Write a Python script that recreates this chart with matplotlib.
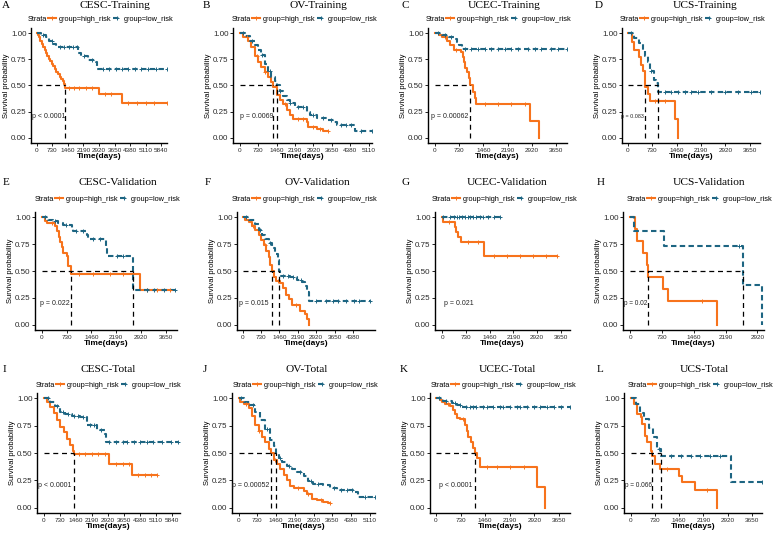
import numpy as np
import matplotlib
matplotlib.use('Agg')
import matplotlib.pyplot as plt
from matplotlib.lines import Line2D

plt.rcParams['font.family'] = ['Liberation Sans', 'DejaVu Sans']

# ---- data (times in days, survival after each event) ----
titles = ['CESC-Training', 'OV-Training', 'UCEC-Training', 'UCS-Training',
          'CESC-Validation', 'OV-Validation', 'UCEC-Validation', 'UCS-Validation',
          'CESC-Total', 'OV-Total', 'UCEC-Total', 'UCS-Total']
letters = list('ABCDEFGHIJKL')
pvals = ['p < 0.0001', 'p = 0.0069', 'p = 0.00062', 'p = 0.083',
         'p = 0.022', 'p = 0.015', 'p = 0.021', 'p = 0.02',
         'p < 0.0001', 'p = 0.00052', 'p < 0.0001', 'p = 0.066']
tick_max = [5840, 5110, 3650, 3650, 3650, 4380, 3650, 2920, 5840, 5110, 3650, 3650]

A_high_t = [60, 120, 180, 250, 310, 370, 430, 500, 560, 620, 700, 780, 850, 920, 1000, 1080, 1150, 1220, 1290, 1340, 2930, 4010]
A_high_s = [0.98, 0.96, 0.93, 0.90, 0.87, 0.84, 0.81, 0.78, 0.75, 0.73, 0.71, 0.69, 0.66, 0.63, 0.61, 0.58, 0.56, 0.54, 0.51, 0.48, 0.42, 0.33]
A_high_c = [1500, 1750, 2000, 2300, 2600, 3200, 3500, 4300, 4700, 5100, 5500, 6100]
A_low_t = [200, 420, 600, 760, 900, 1950, 2080, 2420, 2780, 2830]
A_low_s = [0.98, 0.96, 0.93, 0.90, 0.87, 0.81, 0.78, 0.74, 0.72, 0.66]
A_low_c = [300, 700, 1100, 1300, 1500, 1700, 1900, 2200, 2600, 3100, 3400, 3700, 4000, 4300, 4600, 4900, 5200, 5600, 6100]

B_high_t = [130, 330, 465, 600, 730, 860, 1000, 1130, 1260, 1330, 1460, 1590, 1730, 1860, 1990, 2120, 2650, 2720, 3050, 3320]
B_high_s = [0.96, 0.93, 0.87, 0.78, 0.72, 0.68, 0.63, 0.58, 0.53, 0.49, 0.41, 0.36, 0.32, 0.27, 0.22, 0.18, 0.15, 0.10, 0.08, 0.06]
B_high_c = [300, 700, 1000, 1800, 2300, 2500, 2900, 3200, 3516]
B_low_t = [200, 400, 600, 730, 860, 1000, 1130, 1260, 1390, 1490, 1590, 1730, 1860, 1990, 2190, 2650, 2790, 3050, 3450, 3720, 3850, 4580]
B_low_s = [0.97, 0.93, 0.89, 0.84, 0.79, 0.71, 0.64, 0.58, 0.54, 0.50, 0.45, 0.40, 0.36, 0.33, 0.29, 0.25, 0.22, 0.19, 0.17, 0.15, 0.12, 0.06]
B_low_c = [150, 500, 900, 1200, 1600, 2000, 2300, 2500, 2900, 3300, 3600, 4000, 4200, 4400, 4800, 5240]

C_high_t = [120, 220, 370, 470, 570, 800, 840, 880, 920, 970, 1020, 1070, 1140, 1200, 1240, 2870, 3120]
C_high_s = [0.98, 0.96, 0.93, 0.89, 0.84, 0.82, 0.77, 0.72, 0.67, 0.63, 0.57, 0.50, 0.44, 0.38, 0.32, 0.16, 0.0]
C_high_c = [300, 650, 1500, 1900, 2300, 2700]
C_low_t = [220, 420, 570, 670, 740, 820]
C_low_s = [0.98, 0.96, 0.94, 0.92, 0.89, 0.85]
C_low_c = [100, 300, 500, 900, 1100, 1300, 1500, 1700, 1900, 2100, 2300, 2500, 2800, 3000, 3200, 3500, 3700, 3970]

D_high_t = [120, 190, 320, 390, 450, 500, 520, 590, 650, 1424, 1505]
D_high_s = [0.92, 0.84, 0.77, 0.70, 0.64, 0.57, 0.49, 0.42, 0.35, 0.18, 0.0]
D_high_c = [800, 1100]
D_low_t = [190, 320, 450, 520, 590, 650, 770, 850, 890]
D_low_s = [0.95, 0.91, 0.84, 0.78, 0.72, 0.64, 0.55, 0.52, 0.44]
D_low_c = [100, 700, 1100, 1300, 1500, 1700, 1900, 2100, 2500, 2900, 3300, 3700, 3960]

E_high_t = [100, 165, 390, 460, 500, 540, 590, 640, 735, 785, 855, 2895]
E_high_s = [0.97, 0.95, 0.92, 0.87, 0.82, 0.77, 0.72, 0.67, 0.64, 0.55, 0.47, 0.32]
E_high_c = [300, 1100, 1500, 2000, 2400, 3100, 3400, 3776]
E_low_t = [196, 343, 490, 640, 880, 930, 1325, 1373, 1900, 1930, 2680]
E_low_s = [0.98, 0.97, 0.95, 0.93, 0.90, 0.87, 0.84, 0.80, 0.72, 0.64, 0.32]
E_low_c = [100, 400, 700, 1000, 1200, 1500, 1700, 2200, 2400, 3100, 3300, 3600, 3925]

F_high_t = [105, 237, 370, 500, 633, 725, 830, 936, 1030, 1095, 1160, 1227, 1332, 1464, 1596, 1728, 1820, 1952, 2282, 2480, 2572, 2638]
F_high_s = [0.98, 0.96, 0.92, 0.88, 0.84, 0.79, 0.74, 0.69, 0.63, 0.56, 0.50, 0.44, 0.41, 0.39, 0.34, 0.28, 0.24, 0.18, 0.13, 0.10, 0.05, 0.0]
F_high_c = [400, 900, 1400, 2100]
F_low_t = [237, 500, 633, 765, 897, 1030, 1160, 1293, 1385, 1425, 1464, 1886, 2150, 2348, 2480, 2546, 2638]
F_low_s = [0.98, 0.94, 0.88, 0.84, 0.80, 0.76, 0.71, 0.66, 0.60, 0.50, 0.45, 0.44, 0.42, 0.40, 0.36, 0.30, 0.22]
F_low_c = [150, 700, 1100, 1600, 1800, 2000, 2300, 2900, 3300, 3600, 3800, 4100, 4400, 4600, 5052]

G_high_t = [30, 390, 420, 493, 575, 1285]
G_high_s = [0.96, 0.91, 0.86, 0.82, 0.77, 0.64]
G_high_c = [200, 800, 1100, 1600, 2000, 2400, 2800, 3200, 3526]
G_low_t = []
G_low_s = []
G_low_c = [30, 250, 350, 450, 520, 600, 700, 780, 850, 950, 1050, 1150, 1250, 1400, 1600, 1778]

H_high_t = [107, 153, 283, 382, 412, 741, 871, 1986]
H_high_s = [0.89, 0.78, 0.67, 0.56, 0.44, 0.33, 0.22, 0.0]
H_high_c = [1650]
H_low_t = [92, 779, 2590, 3018]
H_low_s = [0.875, 0.73, 0.365, 0.0]
H_low_c = [2500]

I_high_t = [152, 303, 455, 607, 758, 910, 1062, 1213, 1335, 1396, 2958, 4020]
I_high_s = [0.97, 0.92, 0.87, 0.80, 0.74, 0.69, 0.63, 0.57, 0.52, 0.49, 0.40, 0.30]
I_high_c = [1600, 1900, 2200, 2500, 2800, 3300, 3600, 3900, 4300, 4600, 4900, 5158]
I_low_t = [303, 531, 758, 986, 1290, 1669, 1972, 2427, 2806, 2852]
I_low_s = [0.97, 0.93, 0.88, 0.855, 0.84, 0.83, 0.76, 0.71, 0.67, 0.60]
I_low_c = [200, 600, 900, 1100, 1400, 1550, 1800, 2100, 2300, 2600, 3000, 3300, 3600, 3800, 4100, 4400, 4700, 5000, 5400, 5800, 6144]

J_high_t = [65, 194, 388, 518, 647, 776, 906, 1035, 1165, 1255, 1359, 1488, 1618, 1747, 1876, 2006, 2135, 2523, 2653, 2847, 3041, 3300, 3494]
J_high_s = [0.97, 0.95, 0.91, 0.84, 0.76, 0.70, 0.65, 0.60, 0.54, 0.50, 0.44, 0.40, 0.35, 0.30, 0.25, 0.20, 0.18, 0.15, 0.12, 0.08, 0.07, 0.05, 0.04]
J_high_c = [300, 800, 1400, 2300, 2700, 3200, 3559]
J_low_t = [194, 453, 647, 841, 1035, 1229, 1359, 1462, 1553, 1682, 1876, 2070, 2264, 2523, 2717, 2911, 3300, 3559, 3817, 4529, 4658]
J_low_s = [0.97, 0.94, 0.88, 0.80, 0.72, 0.62, 0.56, 0.50, 0.45, 0.42, 0.38, 0.35, 0.33, 0.29, 0.24, 0.22, 0.21, 0.18, 0.16, 0.14, 0.10]
J_low_c = [100, 550, 1100, 1600, 1950, 2400, 2800, 3100, 3700, 4000, 4200, 4400, 4900, 5300]

K_high_t = [119, 168, 267, 415, 514, 564, 613, 712, 860, 910, 959, 1038, 1108, 1157, 1207, 1305, 2987, 3234]
K_high_s = [0.99, 0.97, 0.95, 0.93, 0.89, 0.86, 0.82, 0.81, 0.76, 0.70, 0.65, 0.60, 0.55, 0.50, 0.45, 0.37, 0.185, 0.0]
K_high_c = [350, 800, 1500, 1800, 2200, 2600]
K_low_t = [218, 465, 613, 781]
K_low_s = [0.98, 0.96, 0.94, 0.92]
K_low_c = [100, 300, 550, 700, 900, 1000, 1100, 1200, 1400, 1500, 1700, 1900, 2000, 2200, 2400, 2500, 2700, 2900, 3100, 3300, 3500, 3700, 3976]

L_high_t = [100, 180, 300, 350, 430, 480, 600, 650, 720, 880, 1450, 1550, 1950, 2600]
L_high_s = [0.95, 0.86, 0.83, 0.77, 0.66, 0.60, 0.52, 0.47, 0.40, 0.35, 0.29, 0.23, 0.16, 0.0]
L_high_c = [1100, 2300]
L_low_t = [150, 280, 400, 550, 680, 800, 900, 3020]
L_low_s = [0.95, 0.87, 0.81, 0.73, 0.65, 0.54, 0.47, 0.23]
L_low_c = [850, 1200, 1500, 1800, 2100, 2400, 2700, 3950]

curves = [
    ((A_high_t, A_high_s, A_high_c), (A_low_t, A_low_s, A_low_c)),
    ((B_high_t, B_high_s, B_high_c), (B_low_t, B_low_s, B_low_c)),
    ((C_high_t, C_high_s, C_high_c), (C_low_t, C_low_s, C_low_c)),
    ((D_high_t, D_high_s, D_high_c), (D_low_t, D_low_s, D_low_c)),
    ((E_high_t, E_high_s, E_high_c), (E_low_t, E_low_s, E_low_c)),
    ((F_high_t, F_high_s, F_high_c), (F_low_t, F_low_s, F_low_c)),
    ((G_high_t, G_high_s, G_high_c), (G_low_t, G_low_s, G_low_c)),
    ((H_high_t, H_high_s, H_high_c), (H_low_t, H_low_s, H_low_c)),
    ((I_high_t, I_high_s, I_high_c), (I_low_t, I_low_s, I_low_c)),
    ((J_high_t, J_high_s, J_high_c), (J_low_t, J_low_s, J_low_c)),
    ((K_high_t, K_high_s, K_high_c), (K_low_t, K_low_s, K_low_c)),
    ((L_high_t, L_high_s, L_high_c), (L_low_t, L_low_s, L_low_c)),
]

# ---- layout (pixels) ----
W, H = 777, 533
row_tb = [(28, 143), (212, 330), (393, 513)]
col_lr = [[(31, 167), (233, 372), (428, 567), (622, 760)],
          [(35, 177), (237, 375), (435, 570), (623, 764)],
          [(37, 180), (232, 375), (430, 570), (624, 762)]]
xlims = [(-264, 6104), (-265, 5243), (-200, 3970), (-180, 3961),
         (-196, 3974), (-224, 5250), (-226, 3938), (-168, 3073),
         (-303, 6219), (-259, 5304), (-178, 3976), (-200, 3950)]
letter_x = [2, 203, 402, 595, 3, 205, 402, 597, 3, 203, 400, 597]
title_x = [115, 318, 504, 705, 118, 317, 507, 709, 108, 307, 507, 704]
head_y = [6, 182, 370]
legend_x = [28, 232, 426, 620, 35, 232, 432, 627, 36, 233, 431, 628]
legend_y = [19, 199, 385]
p_x = [-217, 0, -100, -200, -49, -158, 62, -138, -273, -259, 89, -170]
p_size = [5.0, 5.0, 5.0, 3.9, 5.0, 5.0, 5.0, 4.7, 5.0, 5.0, 5.0, 4.7]

ORANGE = '#F7731C'
TEAL = '#1D6582'
DASH = (0, (2.6, 1.6))


def surv_at(t, s, x):
    idx = np.searchsorted(np.asarray(t, float), np.asarray(x, float), side='right')
    return np.r_[1.0, s][idx]


def draw_curve(ax, t, s, c, color, ls):
    end = max(t[-1] if t else 0, c[-1] if c else 0)
    last = s[-1] if s else 1.0
    ax.step(np.r_[0, t, end], np.r_[1.0, s, last], where='post',
            color=color, ls=ls, lw=1.5, zorder=3)
    ax.plot(c, surv_at(t, s, c), '+', color=color, ms=3.4, mew=0.7, zorder=4)
    below = [ti for ti, si in zip(t, s) if si <= 0.5]
    return below[0] if below else None


fig = plt.figure(figsize=(W / 100, H / 100), dpi=100)

for i in range(12):
    r, k = divmod(i, 4)
    top, bot = row_tb[r]
    left, right = col_lr[r][k]
    ax = fig.add_axes([left / W, 1 - bot / H, (right - left) / W, (bot - top) / H])

    (ht, hs, hc), (lt, ls_, lc) = curves[i]
    meds = []
    m = draw_curve(ax, ht, hs, hc, ORANGE, '-')
    if m is not None:
        meds.append(m)
    m = draw_curve(ax, lt, ls_, lc, TEAL, DASH)
    if m is not None:
        meds.append(m)

    # median survival guides
    if meds:
        ax.plot([0, max(meds)], [0.5, 0.5], color='black', lw=0.9, ls=(0, (4, 3)), zorder=5)
        for m in meds:
            ax.plot([m, m], [0, 0.5], color='black', lw=0.9, ls=(0, (4, 3)), zorder=5)

    ax.text(p_x[i], 0.2, pvals[i], fontsize=p_size[i], va='center', ha='left', color='#222222')

    ax.set_xlim(*xlims[i])
    ax.set_ylim(-0.05, 1.05)
    ax.set_xticks(np.arange(0, tick_max[i] + 1, 730))
    ax.set_yticks([0, 0.25, 0.5, 0.75, 1.0])
    ax.set_yticklabels(['0.00', '0.25', '0.50', '0.75', '1.00'])
    for side in ['top', 'right']:
        ax.spines[side].set_visible(False)
    for side in ['left', 'bottom']:
        ax.spines[side].set_linewidth(1.0)
    ax.tick_params(axis='y', length=2, width=0.6, pad=1.2, labelsize=5.8, labelcolor='#2a2a2a')
    ax.tick_params(axis='x', length=2, width=0.6, pad=1.5, labelsize=4.6, labelcolor='#2a2a2a')
    ax.set_xlabel('Time(days)', fontsize=6, fontweight='bold', labelpad=0.3)
    ax.set_ylabel('Survival probability', fontsize=5.5, labelpad=0.8)

    fig.text(letter_x[i] / W, 1 - head_y[r] / H, letters[i], family='Liberation Serif',
             fontsize=8, ha='left', va='center')
    fig.text(title_x[i] / W, 1 - head_y[r] / H, titles[i], family='Liberation Serif',
             fontsize=8.2, ha='center', va='center')

    handles = [Line2D([], [], color=ORANGE, lw=1.5, marker='+', ms=3, mew=0.7),
               Line2D([], [], color=TEAL, lw=1.5, ls=DASH, marker='+', ms=3, mew=0.7),
               Line2D([], [], color='none')]
    fig.legend(handles, ['Strata', 'group=high_risk', 'group=low_risk'],
               loc='center left', bbox_to_anchor=(legend_x[i] / W, 1 - legend_y[r] / H),
               ncol=3, markerfirst=False, frameon=False, fontsize=5.3,
               handlelength=1.0, handletextpad=0.15, columnspacing=0.45,
               borderpad=0, borderaxespad=0)

fig.savefig('out.png', dpi=100)
